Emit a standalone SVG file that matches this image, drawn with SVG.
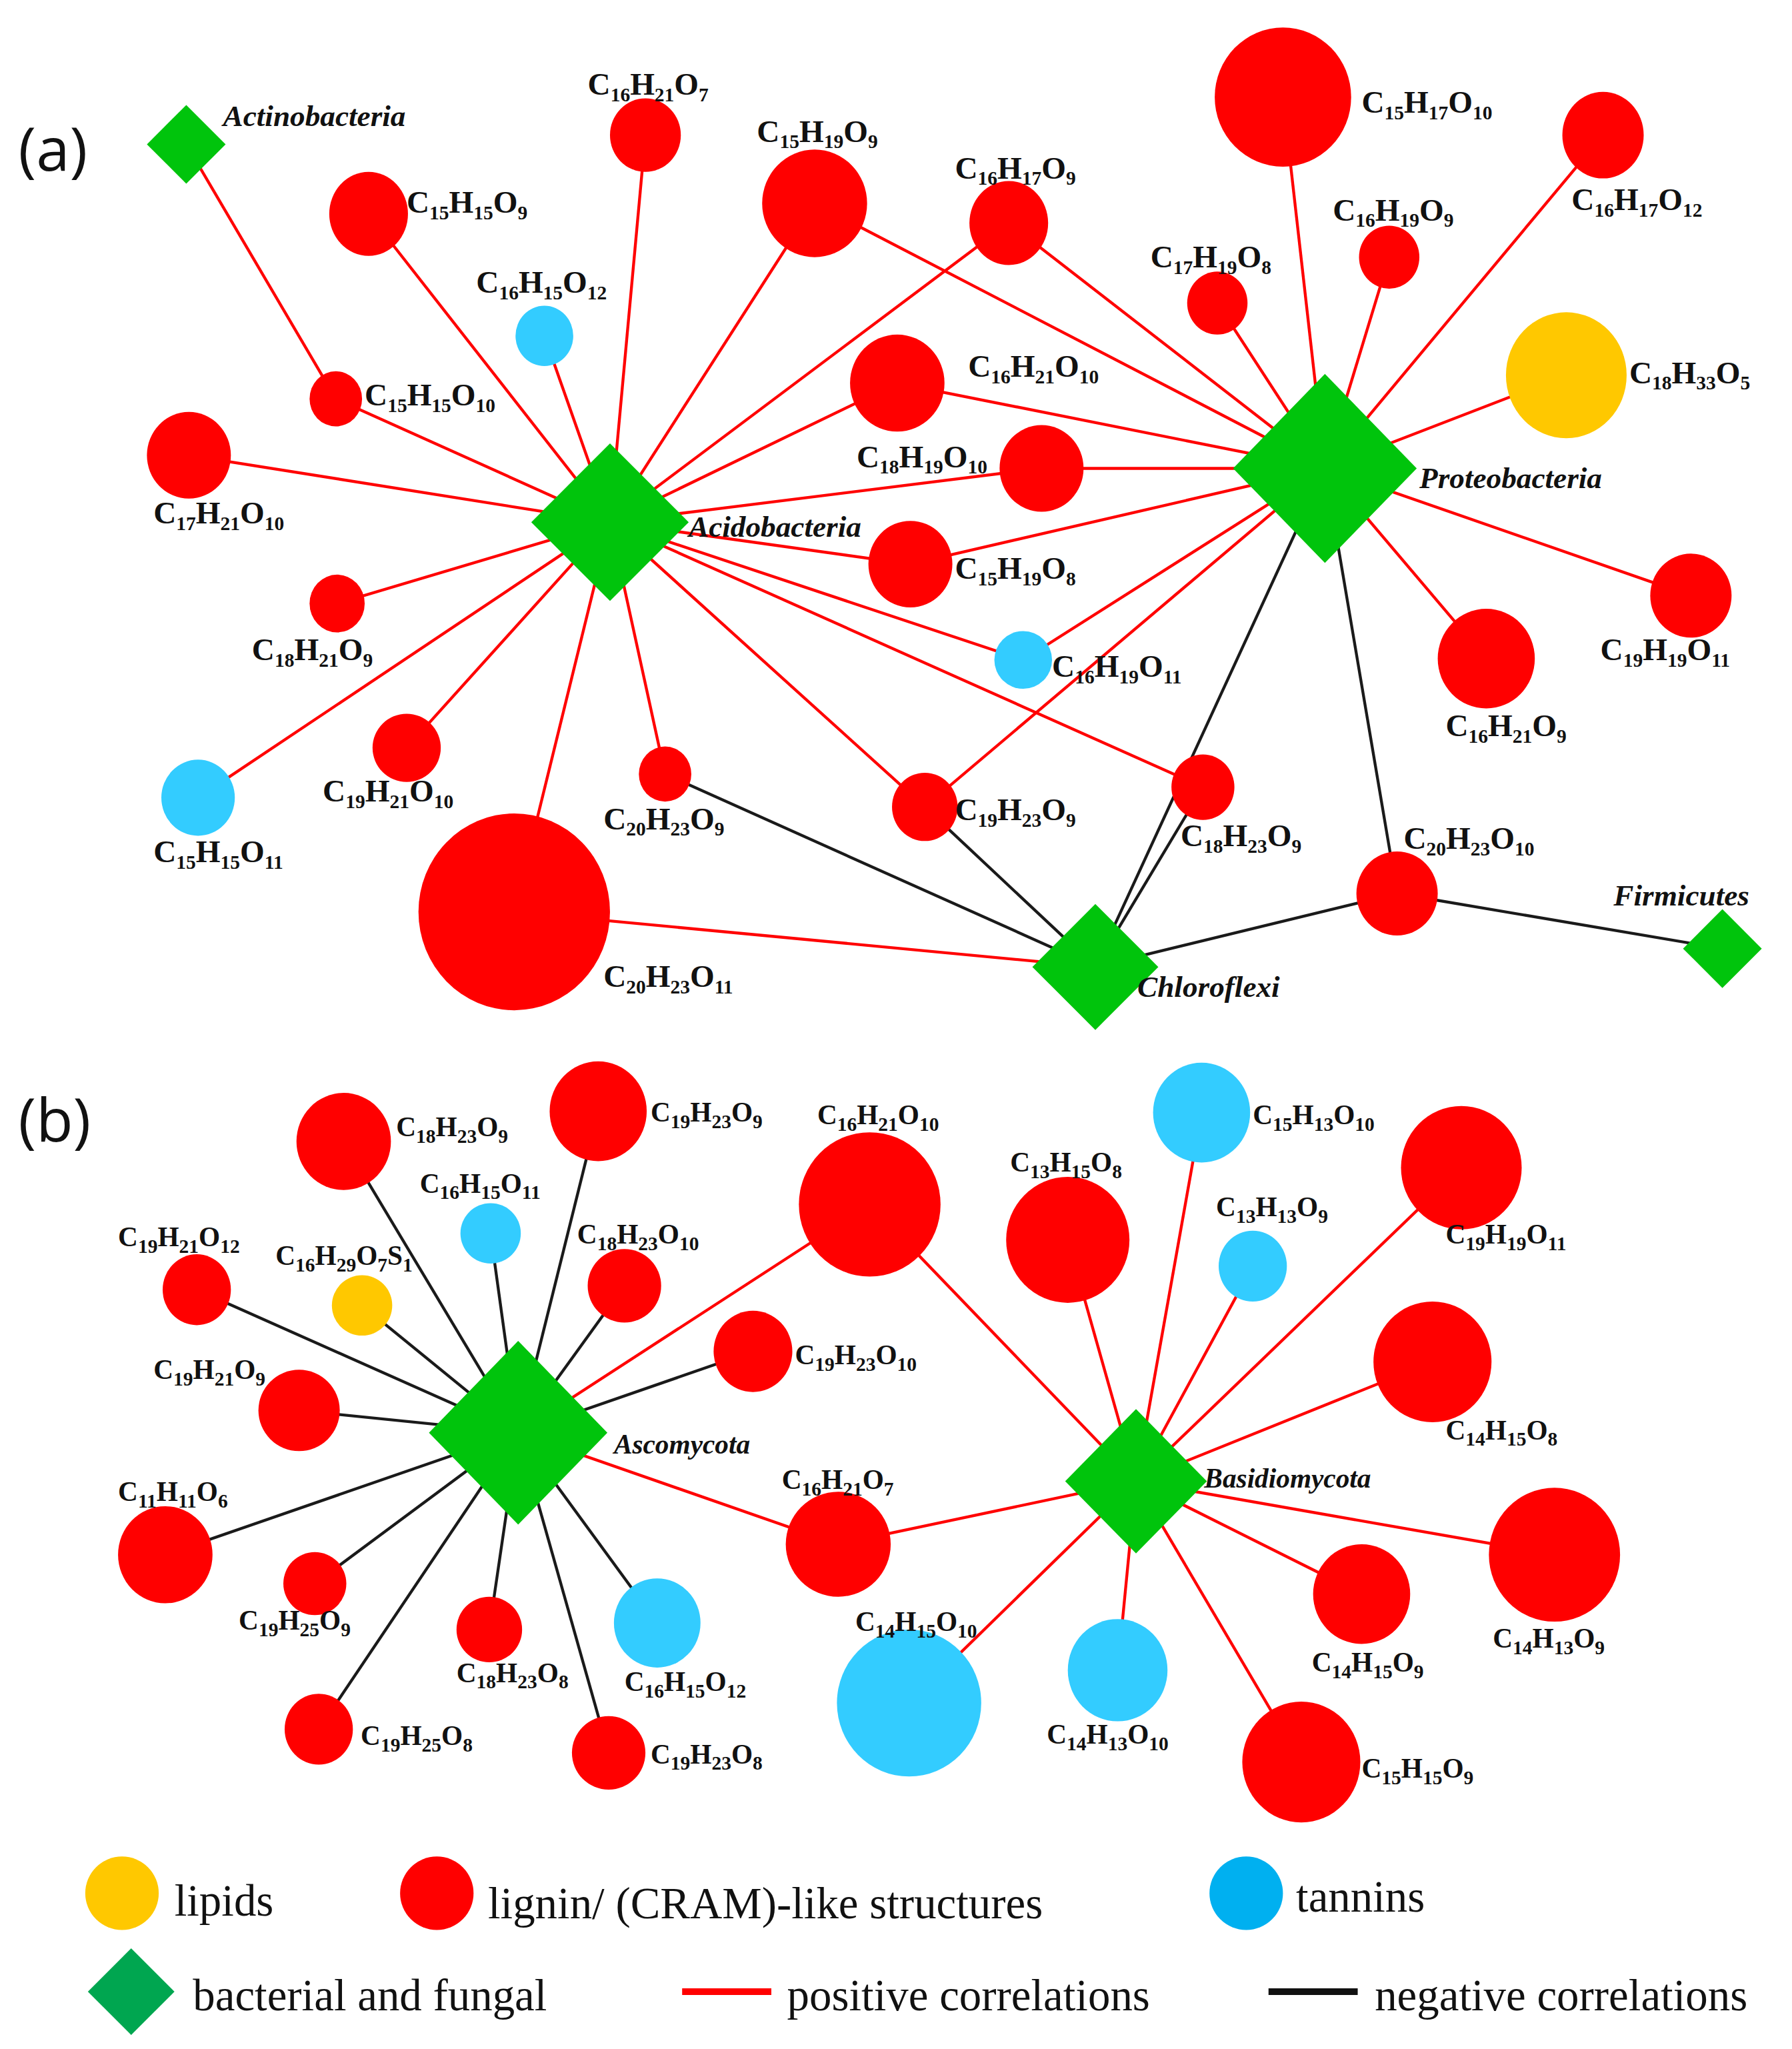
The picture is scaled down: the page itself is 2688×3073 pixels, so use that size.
<svg xmlns="http://www.w3.org/2000/svg" width="2688" height="3073" viewBox="0 0 2688 3073">
<style>
.r{fill:#ff0000}.b{fill:#33ccff}.y{fill:#ffc800}.g{fill:#00c40c}
.p line{stroke:#ff0000;stroke-width:2.2}
.n line{stroke:#1a1a1a;stroke-width:2.2}
text{font-family:"Liberation Serif","Times New Roman",serif;font-weight:bold;font-size:24px;fill:#111}
.s{font-size:15px}
.t{font-style:italic;font-size:23px}
.pl{font-family:"Open Sans","Noto Sans",sans-serif;font-weight:normal;font-size:46px}
.lg{font-weight:normal;font-size:34px}
</style>
<rect width="2688" height="3073" fill="#fff"/>
<g transform="scale(1.9677)">
<g id="connectors">
<g class="p">
<line x1="142" y1="110" x2="256" y2="304"/>
<line x1="465" y1="398" x2="256" y2="304"/>
<line x1="465" y1="398" x2="281" y2="163"/>
<line x1="465" y1="398" x2="415" y2="256"/>
<line x1="465" y1="398" x2="492" y2="103"/>
<line x1="465" y1="398" x2="621" y2="155"/>
<line x1="465" y1="398" x2="769" y2="170"/>
<line x1="465" y1="398" x2="684" y2="292"/>
<line x1="465" y1="398" x2="794" y2="357"/>
<line x1="465" y1="398" x2="694" y2="430"/>
<line x1="465" y1="398" x2="780" y2="503"/>
<line x1="465" y1="398" x2="917" y2="600"/>
<line x1="465" y1="398" x2="705" y2="615"/>
<line x1="465" y1="398" x2="507" y2="590"/>
<line x1="465" y1="398" x2="392" y2="695"/>
<line x1="465" y1="398" x2="310" y2="570"/>
<line x1="465" y1="398" x2="151" y2="608"/>
<line x1="465" y1="398" x2="257" y2="460"/>
<line x1="465" y1="398" x2="144" y2="347"/>
<line x1="1010" y1="357" x2="621" y2="155"/>
<line x1="1010" y1="357" x2="769" y2="170"/>
<line x1="1010" y1="357" x2="928" y2="231"/>
<line x1="1010" y1="357" x2="978" y2="74"/>
<line x1="1010" y1="357" x2="1059" y2="196"/>
<line x1="1010" y1="357" x2="1222" y2="103"/>
<line x1="1010" y1="357" x2="1194" y2="286"/>
<line x1="1010" y1="357" x2="684" y2="292"/>
<line x1="1010" y1="357" x2="794" y2="357"/>
<line x1="1010" y1="357" x2="694" y2="430"/>
<line x1="1010" y1="357" x2="780" y2="503"/>
<line x1="1010" y1="357" x2="705" y2="615"/>
<line x1="1010" y1="357" x2="1133" y2="502"/>
<line x1="1010" y1="357" x2="1289" y2="454"/>
<line x1="835" y1="737" x2="392" y2="695"/>
<line x1="395" y1="1092" x2="663" y2="918"/>
<line x1="395" y1="1092" x2="639" y2="1177"/>
<line x1="866" y1="1129" x2="663" y2="918"/>
<line x1="866" y1="1129" x2="639" y2="1177"/>
<line x1="866" y1="1129" x2="916" y2="848"/>
<line x1="866" y1="1129" x2="814" y2="945"/>
<line x1="866" y1="1129" x2="955" y2="965"/>
<line x1="866" y1="1129" x2="1114" y2="890"/>
<line x1="866" y1="1129" x2="1092" y2="1038"/>
<line x1="866" y1="1129" x2="1185" y2="1185"/>
<line x1="866" y1="1129" x2="1038" y2="1215"/>
<line x1="866" y1="1129" x2="992" y2="1343"/>
<line x1="866" y1="1129" x2="852" y2="1273"/>
<line x1="866" y1="1129" x2="693" y2="1298"/>
</g>
<g class="n">
<line x1="1010" y1="357" x2="835" y2="737"/>
<line x1="1010" y1="357" x2="1065" y2="681"/>
<line x1="835" y1="737" x2="507" y2="590"/>
<line x1="835" y1="737" x2="705" y2="615"/>
<line x1="835" y1="737" x2="917" y2="600"/>
<line x1="835" y1="737" x2="1065" y2="681"/>
<line x1="1065" y1="681" x2="1313" y2="723"/>
<line x1="395" y1="1092" x2="262" y2="870"/>
<line x1="395" y1="1092" x2="456" y2="847"/>
<line x1="395" y1="1092" x2="374" y2="940"/>
<line x1="395" y1="1092" x2="476" y2="980"/>
<line x1="395" y1="1092" x2="150" y2="983"/>
<line x1="395" y1="1092" x2="276" y2="995"/>
<line x1="395" y1="1092" x2="574" y2="1030"/>
<line x1="395" y1="1092" x2="228" y2="1075"/>
<line x1="395" y1="1092" x2="126" y2="1185"/>
<line x1="395" y1="1092" x2="240" y2="1207"/>
<line x1="395" y1="1092" x2="373" y2="1242"/>
<line x1="395" y1="1092" x2="501" y2="1237"/>
<line x1="395" y1="1092" x2="243" y2="1318"/>
<line x1="395" y1="1092" x2="464" y2="1336"/>
</g>
</g>
<text class="pl" x="14" y="130">(a)</text>
<text class="pl" x="14" y="870">(b)</text>
<g id="actinobacteria"><polygon class="g" points="142,80 172,110 142,140 112,110"/><text class="t" x="170" y="96">Actinobacteria</text></g>
<g id="acidobacteria"><polygon class="g" points="465,338 525,398 465,458 405,398"/><text class="t" x="525" y="409">Acidobacteria</text></g>
<g id="proteobacteria"><polygon class="g" points="1010,285 1080,357 1010,429 940,357"/><text class="t" x="1082" y="372">Proteobacteria</text></g>
<g id="chloroflexi"><polygon class="g" points="835,689 883,737 835,785 787,737"/><text class="t" x="867" y="760">Chloroflexi</text></g>
<g id="firmicutes"><polygon class="g" points="1313,693 1343,723 1313,753 1283,723"/><text class="t" x="1230" y="690">Firmicutes</text></g>
<g id="n1"><ellipse class="r" cx="492" cy="103" rx="27" ry="28"/><text x="448" y="72">C<tspan class="s" dy="5">16</tspan><tspan dy="-5">H</tspan><tspan class="s" dy="5">21</tspan><tspan dy="-5">O</tspan><tspan class="s" dy="5">7</tspan></text></g>
<g id="n2"><ellipse class="r" cx="281" cy="163" rx="30" ry="32"/><text x="310" y="162">C<tspan class="s" dy="5">15</tspan><tspan dy="-5">H</tspan><tspan class="s" dy="5">15</tspan><tspan dy="-5">O</tspan><tspan class="s" dy="5">9</tspan></text></g>
<g id="n3"><ellipse class="r" cx="621" cy="155" rx="40" ry="41"/><text x="577" y="108">C<tspan class="s" dy="5">15</tspan><tspan dy="-5">H</tspan><tspan class="s" dy="5">19</tspan><tspan dy="-5">O</tspan><tspan class="s" dy="5">9</tspan></text></g>
<g id="n4"><ellipse class="r" cx="769" cy="170" rx="30" ry="32"/><text x="728" y="136">C<tspan class="s" dy="5">16</tspan><tspan dy="-5">H</tspan><tspan class="s" dy="5">17</tspan><tspan dy="-5">O</tspan><tspan class="s" dy="5">9</tspan></text></g>
<g id="n5"><ellipse class="r" cx="978" cy="74" rx="52" ry="53"/><text x="1038" y="86">C<tspan class="s" dy="5">15</tspan><tspan dy="-5">H</tspan><tspan class="s" dy="5">17</tspan><tspan dy="-5">O</tspan><tspan class="s" dy="5">10</tspan></text></g>
<g id="n6"><ellipse class="r" cx="1222" cy="103" rx="31" ry="33"/><text x="1198" y="160">C<tspan class="s" dy="5">16</tspan><tspan dy="-5">H</tspan><tspan class="s" dy="5">17</tspan><tspan dy="-5">O</tspan><tspan class="s" dy="5">12</tspan></text></g>
<g id="n7"><ellipse class="r" cx="1059" cy="196" rx="23" ry="24"/><text x="1016" y="168">C<tspan class="s" dy="5">16</tspan><tspan dy="-5">H</tspan><tspan class="s" dy="5">19</tspan><tspan dy="-5">O</tspan><tspan class="s" dy="5">9</tspan></text></g>
<g id="n8"><ellipse class="r" cx="928" cy="231" rx="23" ry="24"/><text x="877" y="204">C<tspan class="s" dy="5">17</tspan><tspan dy="-5">H</tspan><tspan class="s" dy="5">19</tspan><tspan dy="-5">O</tspan><tspan class="s" dy="5">8</tspan></text></g>
<g id="n9"><ellipse class="y" cx="1194" cy="286" rx="46" ry="48"/><text x="1242" y="292">C<tspan class="s" dy="5">18</tspan><tspan dy="-5">H</tspan><tspan class="s" dy="5">33</tspan><tspan dy="-5">O</tspan><tspan class="s" dy="5">5</tspan></text></g>
<g id="n10"><ellipse class="r" cx="256" cy="304" rx="20" ry="21"/><text x="278" y="309">C<tspan class="s" dy="5">15</tspan><tspan dy="-5">H</tspan><tspan class="s" dy="5">15</tspan><tspan dy="-5">O</tspan><tspan class="s" dy="5">10</tspan></text></g>
<g id="n11"><ellipse class="b" cx="415" cy="256" rx="22" ry="23"/><text x="363" y="223">C<tspan class="s" dy="5">16</tspan><tspan dy="-5">H</tspan><tspan class="s" dy="5">15</tspan><tspan dy="-5">O</tspan><tspan class="s" dy="5">12</tspan></text></g>
<g id="n12"><ellipse class="r" cx="144" cy="347" rx="32" ry="33"/><text x="117" y="399">C<tspan class="s" dy="5">17</tspan><tspan dy="-5">H</tspan><tspan class="s" dy="5">21</tspan><tspan dy="-5">O</tspan><tspan class="s" dy="5">10</tspan></text></g>
<g id="n13"><ellipse class="r" cx="684" cy="292" rx="36" ry="37"/><text x="738" y="287">C<tspan class="s" dy="5">16</tspan><tspan dy="-5">H</tspan><tspan class="s" dy="5">21</tspan><tspan dy="-5">O</tspan><tspan class="s" dy="5">10</tspan></text></g>
<g id="n14"><ellipse class="r" cx="794" cy="357" rx="32" ry="33"/><text x="653" y="356">C<tspan class="s" dy="5">18</tspan><tspan dy="-5">H</tspan><tspan class="s" dy="5">19</tspan><tspan dy="-5">O</tspan><tspan class="s" dy="5">10</tspan></text></g>
<g id="n15"><ellipse class="r" cx="694" cy="430" rx="32" ry="33"/><text x="728" y="441">C<tspan class="s" dy="5">15</tspan><tspan dy="-5">H</tspan><tspan class="s" dy="5">19</tspan><tspan dy="-5">O</tspan><tspan class="s" dy="5">8</tspan></text></g>
<g id="n16"><ellipse class="r" cx="257" cy="460" rx="21" ry="22"/><text x="192" y="503">C<tspan class="s" dy="5">18</tspan><tspan dy="-5">H</tspan><tspan class="s" dy="5">21</tspan><tspan dy="-5">O</tspan><tspan class="s" dy="5">9</tspan></text></g>
<g id="n17"><ellipse class="b" cx="780" cy="503" rx="22" ry="22"/><text x="802" y="516">C<tspan class="s" dy="5">16</tspan><tspan dy="-5">H</tspan><tspan class="s" dy="5">19</tspan><tspan dy="-5">O</tspan><tspan class="s" dy="5">11</tspan></text></g>
<g id="n18"><ellipse class="r" cx="1289" cy="454" rx="31" ry="32"/><text x="1220" y="503">C<tspan class="s" dy="5">19</tspan><tspan dy="-5">H</tspan><tspan class="s" dy="5">19</tspan><tspan dy="-5">O</tspan><tspan class="s" dy="5">11</tspan></text></g>
<g id="n19"><ellipse class="r" cx="1133" cy="502" rx="37" ry="38"/><text x="1102" y="561">C<tspan class="s" dy="5">16</tspan><tspan dy="-5">H</tspan><tspan class="s" dy="5">21</tspan><tspan dy="-5">O</tspan><tspan class="s" dy="5">9</tspan></text></g>
<g id="n20"><ellipse class="b" cx="151" cy="608" rx="28" ry="29"/><text x="117" y="657">C<tspan class="s" dy="5">15</tspan><tspan dy="-5">H</tspan><tspan class="s" dy="5">15</tspan><tspan dy="-5">O</tspan><tspan class="s" dy="5">11</tspan></text></g>
<g id="n21"><ellipse class="r" cx="310" cy="570" rx="26" ry="26"/><text x="246" y="611">C<tspan class="s" dy="5">19</tspan><tspan dy="-5">H</tspan><tspan class="s" dy="5">21</tspan><tspan dy="-5">O</tspan><tspan class="s" dy="5">10</tspan></text></g>
<g id="n22"><ellipse class="r" cx="507" cy="590" rx="20" ry="21"/><text x="460" y="632">C<tspan class="s" dy="5">20</tspan><tspan dy="-5">H</tspan><tspan class="s" dy="5">23</tspan><tspan dy="-5">O</tspan><tspan class="s" dy="5">9</tspan></text></g>
<g id="n23"><ellipse class="r" cx="392" cy="695" rx="73" ry="75"/><text x="460" y="752">C<tspan class="s" dy="5">20</tspan><tspan dy="-5">H</tspan><tspan class="s" dy="5">23</tspan><tspan dy="-5">O</tspan><tspan class="s" dy="5">11</tspan></text></g>
<g id="n24"><ellipse class="r" cx="705" cy="615" rx="25" ry="26"/><text x="728" y="625">C<tspan class="s" dy="5">19</tspan><tspan dy="-5">H</tspan><tspan class="s" dy="5">23</tspan><tspan dy="-5">O</tspan><tspan class="s" dy="5">9</tspan></text></g>
<g id="n25"><ellipse class="r" cx="917" cy="600" rx="24" ry="25"/><text x="900" y="645">C<tspan class="s" dy="5">18</tspan><tspan dy="-5">H</tspan><tspan class="s" dy="5">23</tspan><tspan dy="-5">O</tspan><tspan class="s" dy="5">9</tspan></text></g>
<g id="n26"><ellipse class="r" cx="1065" cy="681" rx="31" ry="32"/><text x="1070" y="647">C<tspan class="s" dy="5">20</tspan><tspan dy="-5">H</tspan><tspan class="s" dy="5">23</tspan><tspan dy="-5">O</tspan><tspan class="s" dy="5">10</tspan></text></g>
<g id="ascomycota"><polygon class="g" points="395,1022 463,1092 395,1162 327,1092"/><text class="t" x="468" y="1108" style="font-size:21px">Ascomycota</text></g>
<g id="basidiomycota"><polygon class="g" points="866,1074 920,1129 866,1184 812,1129"/><text class="t" x="918" y="1134" style="font-size:21px">Basidiomycota</text></g>
<g id="m1"><ellipse class="r" cx="262" cy="870" rx="36" ry="37"/><text x="302" y="866" style="font-size:21px">C<tspan class="s" dy="5">18</tspan><tspan dy="-5">H</tspan><tspan class="s" dy="5">23</tspan><tspan dy="-5">O</tspan><tspan class="s" dy="5">9</tspan></text></g>
<g id="m2"><ellipse class="r" cx="456" cy="847" rx="37" ry="38"/><text x="496" y="855" style="font-size:21px">C<tspan class="s" dy="5">19</tspan><tspan dy="-5">H</tspan><tspan class="s" dy="5">23</tspan><tspan dy="-5">O</tspan><tspan class="s" dy="5">9</tspan></text></g>
<g id="m3"><ellipse class="b" cx="374" cy="940" rx="23" ry="23"/><text x="320" y="909" style="font-size:21px">C<tspan class="s" dy="5">16</tspan><tspan dy="-5">H</tspan><tspan class="s" dy="5">15</tspan><tspan dy="-5">O</tspan><tspan class="s" dy="5">11</tspan></text></g>
<g id="m4"><ellipse class="r" cx="476" cy="980" rx="28" ry="28"/><text x="440" y="948" style="font-size:21px">C<tspan class="s" dy="5">18</tspan><tspan dy="-5">H</tspan><tspan class="s" dy="5">23</tspan><tspan dy="-5">O</tspan><tspan class="s" dy="5">10</tspan></text></g>
<g id="m5"><ellipse class="r" cx="663" cy="918" rx="54" ry="55"/><text x="623" y="857" style="font-size:21px">C<tspan class="s" dy="5">16</tspan><tspan dy="-5">H</tspan><tspan class="s" dy="5">21</tspan><tspan dy="-5">O</tspan><tspan class="s" dy="5">10</tspan></text></g>
<g id="m6"><ellipse class="r" cx="150" cy="983" rx="26" ry="27"/><text x="90" y="950" style="font-size:21px">C<tspan class="s" dy="5">19</tspan><tspan dy="-5">H</tspan><tspan class="s" dy="5">21</tspan><tspan dy="-5">O</tspan><tspan class="s" dy="5">12</tspan></text></g>
<g id="m7"><ellipse class="y" cx="276" cy="995" rx="23" ry="23"/><text x="210" y="964" style="font-size:21px">C<tspan class="s" dy="5">16</tspan><tspan dy="-5">H</tspan><tspan class="s" dy="5">29</tspan><tspan dy="-5">O</tspan><tspan class="s" dy="5">7</tspan><tspan dy="-5">S</tspan><tspan class="s" dy="5">1</tspan></text></g>
<g id="m8"><ellipse class="r" cx="574" cy="1030" rx="30" ry="31"/><text x="606" y="1040" style="font-size:21px">C<tspan class="s" dy="5">19</tspan><tspan dy="-5">H</tspan><tspan class="s" dy="5">23</tspan><tspan dy="-5">O</tspan><tspan class="s" dy="5">10</tspan></text></g>
<g id="m9"><ellipse class="r" cx="228" cy="1075" rx="31" ry="31"/><text x="117" y="1051" style="font-size:21px">C<tspan class="s" dy="5">19</tspan><tspan dy="-5">H</tspan><tspan class="s" dy="5">21</tspan><tspan dy="-5">O</tspan><tspan class="s" dy="5">9</tspan></text></g>
<g id="m10"><ellipse class="r" cx="126" cy="1185" rx="36" ry="37"/><text x="90" y="1144" style="font-size:21px">C<tspan class="s" dy="5">11</tspan><tspan dy="-5">H</tspan><tspan class="s" dy="5">11</tspan><tspan dy="-5">O</tspan><tspan class="s" dy="5">6</tspan></text></g>
<g id="m11"><ellipse class="r" cx="240" cy="1207" rx="24" ry="24"/><text x="182" y="1242" style="font-size:21px">C<tspan class="s" dy="5">19</tspan><tspan dy="-5">H</tspan><tspan class="s" dy="5">25</tspan><tspan dy="-5">O</tspan><tspan class="s" dy="5">9</tspan></text></g>
<g id="m12"><ellipse class="r" cx="373" cy="1242" rx="25" ry="25"/><text x="348" y="1282" style="font-size:21px">C<tspan class="s" dy="5">18</tspan><tspan dy="-5">H</tspan><tspan class="s" dy="5">23</tspan><tspan dy="-5">O</tspan><tspan class="s" dy="5">8</tspan></text></g>
<g id="m13"><ellipse class="b" cx="501" cy="1237" rx="33" ry="34"/><text x="476" y="1289" style="font-size:21px">C<tspan class="s" dy="5">16</tspan><tspan dy="-5">H</tspan><tspan class="s" dy="5">15</tspan><tspan dy="-5">O</tspan><tspan class="s" dy="5">12</tspan></text></g>
<g id="m14"><ellipse class="r" cx="243" cy="1318" rx="26" ry="27"/><text x="275" y="1330" style="font-size:21px">C<tspan class="s" dy="5">19</tspan><tspan dy="-5">H</tspan><tspan class="s" dy="5">25</tspan><tspan dy="-5">O</tspan><tspan class="s" dy="5">8</tspan></text></g>
<g id="m15"><ellipse class="r" cx="464" cy="1336" rx="28" ry="28"/><text x="496" y="1344" style="font-size:21px">C<tspan class="s" dy="5">19</tspan><tspan dy="-5">H</tspan><tspan class="s" dy="5">23</tspan><tspan dy="-5">O</tspan><tspan class="s" dy="5">8</tspan></text></g>
<g id="m16"><ellipse class="r" cx="639" cy="1177" rx="40" ry="40"/><text x="596" y="1135" style="font-size:21px">C<tspan class="s" dy="5">16</tspan><tspan dy="-5">H</tspan><tspan class="s" dy="5">21</tspan><tspan dy="-5">O</tspan><tspan class="s" dy="5">7</tspan></text></g>
<g id="m17"><ellipse class="b" cx="916" cy="848" rx="37" ry="38"/><text x="955" y="857" style="font-size:21px">C<tspan class="s" dy="5">15</tspan><tspan dy="-5">H</tspan><tspan class="s" dy="5">13</tspan><tspan dy="-5">O</tspan><tspan class="s" dy="5">10</tspan></text></g>
<g id="m18"><ellipse class="r" cx="814" cy="945" rx="47" ry="48"/><text x="770" y="893" style="font-size:21px">C<tspan class="s" dy="5">13</tspan><tspan dy="-5">H</tspan><tspan class="s" dy="5">15</tspan><tspan dy="-5">O</tspan><tspan class="s" dy="5">8</tspan></text></g>
<g id="m19"><ellipse class="b" cx="955" cy="965" rx="26" ry="27"/><text x="927" y="927" style="font-size:21px">C<tspan class="s" dy="5">13</tspan><tspan dy="-5">H</tspan><tspan class="s" dy="5">13</tspan><tspan dy="-5">O</tspan><tspan class="s" dy="5">9</tspan></text></g>
<g id="m20"><ellipse class="r" cx="1114" cy="890" rx="46" ry="47"/><text x="1102" y="948" style="font-size:21px">C<tspan class="s" dy="5">19</tspan><tspan dy="-5">H</tspan><tspan class="s" dy="5">19</tspan><tspan dy="-5">O</tspan><tspan class="s" dy="5">11</tspan></text></g>
<g id="m21"><ellipse class="r" cx="1092" cy="1038" rx="45" ry="46"/><text x="1102" y="1097" style="font-size:21px">C<tspan class="s" dy="5">14</tspan><tspan dy="-5">H</tspan><tspan class="s" dy="5">15</tspan><tspan dy="-5">O</tspan><tspan class="s" dy="5">8</tspan></text></g>
<g id="m22"><ellipse class="r" cx="1185" cy="1185" rx="50" ry="51"/><text x="1138" y="1256" style="font-size:21px">C<tspan class="s" dy="5">14</tspan><tspan dy="-5">H</tspan><tspan class="s" dy="5">13</tspan><tspan dy="-5">O</tspan><tspan class="s" dy="5">9</tspan></text></g>
<g id="m23"><ellipse class="r" cx="1038" cy="1215" rx="37" ry="38"/><text x="1000" y="1274" style="font-size:21px">C<tspan class="s" dy="5">14</tspan><tspan dy="-5">H</tspan><tspan class="s" dy="5">15</tspan><tspan dy="-5">O</tspan><tspan class="s" dy="5">9</tspan></text></g>
<g id="m24"><ellipse class="r" cx="992" cy="1343" rx="45" ry="46"/><text x="1038" y="1355" style="font-size:21px">C<tspan class="s" dy="5">15</tspan><tspan dy="-5">H</tspan><tspan class="s" dy="5">15</tspan><tspan dy="-5">O</tspan><tspan class="s" dy="5">9</tspan></text></g>
<g id="m25"><ellipse class="b" cx="852" cy="1273" rx="38" ry="39"/><text x="798" y="1329" style="font-size:21px">C<tspan class="s" dy="5">14</tspan><tspan dy="-5">H</tspan><tspan class="s" dy="5">13</tspan><tspan dy="-5">O</tspan><tspan class="s" dy="5">10</tspan></text></g>
<g id="m26"><ellipse class="b" cx="693" cy="1298" rx="55" ry="56"/><text x="652" y="1243" style="font-size:21px">C<tspan class="s" dy="5">14</tspan><tspan dy="-5">H</tspan><tspan class="s" dy="5">15</tspan><tspan dy="-5">O</tspan><tspan class="s" dy="5">10</tspan></text></g>
<g id="legend">
<circle class="y" cx="93" cy="1443" r="28"/><text class="lg" x="133" y="1460">lipids</text>
<circle class="r" cx="333" cy="1443" r="28"/><text class="lg" x="372" y="1462">lignin/ (CRAM)-like structures</text>
<circle fill="#00b0f0" cx="950" cy="1443" r="28"/><text class="lg" x="988" y="1457">tannins</text>
<polygon fill="#00a650" points="100,1485 133,1518 100,1551 67,1518"/><text class="lg" x="147" y="1532">bacterial and fungal</text>
<line x1="520" y1="1518" x2="588" y2="1518" stroke="#ff0000" stroke-width="5"/><text class="lg" x="600" y="1532">positive correlations</text>
<line x1="967" y1="1518" x2="1035" y2="1518" stroke="#111" stroke-width="5"/><text class="lg" x="1048" y="1532">negative correlations</text>
</g>
</g>
</svg>
